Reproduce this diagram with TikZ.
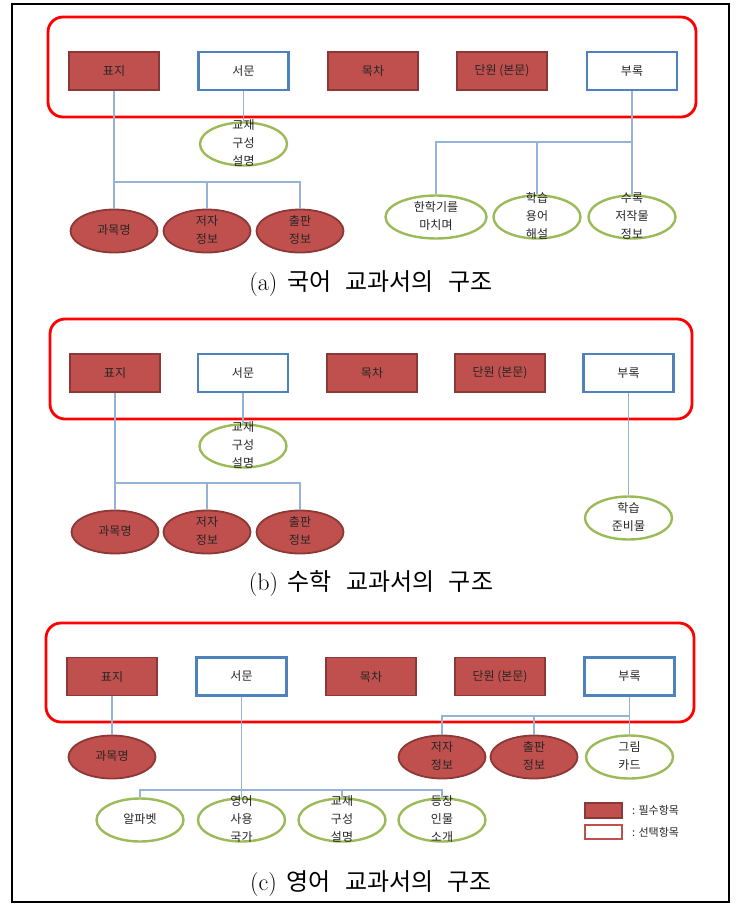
\documentclass[tikz,border=0pt]{standalone}
\usepackage{fontspec}
\newfontfamily\kr{Noto Sans CJK KR}
\usetikzlibrary{shapes.geometric}

\definecolor{reqred}{HTML}{C0504D}
\definecolor{reqedge}{HTML}{8C3836}
\definecolor{optblue}{HTML}{4F81BD}
\definecolor{optgreen}{HTML}{9BBB59}
\definecolor{linkblue}{HTML}{95B3D7}
\definecolor{labelgrey}{HTML}{262626}

% text of an oval, allowed to run over its border
\newcommand{\ovaltext}[1]{\raisebox{-0.25em}[0pt][0pt]{\begin{tabular}{@{}c@{}}#1\end{tabular}}}

\tikzset{
    part/.style={rectangle, minimum width=90pt, minimum height=38pt, inner sep=0pt, text=labelgrey, font=\kr\fontsize{12}{14}\selectfont},
    reqpart/.style={part, fill=reqred, draw=reqedge, line width=1.8pt},
    optpart/.style={part, fill=white, draw=optblue, line width=2.4pt},
    item/.style={ellipse, minimum width=87pt, minimum height=43pt, inner sep=0pt, text=labelgrey, font=\kr\fontsize{12}{18}\selectfont},
    reqitem/.style={item, fill=reqred, draw=reqedge, line width=1.8pt},
    optitem/.style={item, fill=white, draw=optgreen, line width=2.4pt},
    group/.style={draw=red, line width=2.8pt, rounded corners=15pt},
    link/.style={draw=linkblue, line width=1.4pt},
    caption/.style={font=\fontsize{24}{26}\selectfont},
    keytext/.style={anchor=west, inner sep=0pt, text=labelgrey, font=\kr\fontsize{11}{13}\selectfont}
}

\begin{document}
\begin{tikzpicture}[x=1pt, y=-1pt]

    \useasboundingbox (0,0) rectangle (737,904);
    \draw [line width=2.8pt] (12,4) rectangle (729,902);

    % ---------- (a) ----------
    \draw [group] (48,17) rectangle (696,117);

    \node [reqpart] (a-pyoji)  at (114,71) {표지};
    \node [optpart] (a-seomun) at (243.5,71) {서문};
    \node [reqpart] (a-mokcha) at (373,71) {목차};
    \node [reqpart] (a-danwon) at (502,71) {단원 (본문)};
    \node [optpart] (a-burok)  at (632,71) {부록};

    \node [optitem] (a-gyojae) at (243.5,144) {\ovaltext{교재\\구성\\설명}};

    \node [reqitem] (a-gwamok) at (114,231) {\ovaltext{과목명}};
    \node [reqitem] (a-jeoja)  at (207,231) {\ovaltext{저자\\정보}};
    \node [reqitem] (a-chulpan) at (300,231) {\ovaltext{출판\\정보}};

    \node [optitem, minimum width=101pt] (a-hanhakgi) at (436,217) {\ovaltext{한학기를\\마치며}};
    \node [optitem] (a-yongeo) at (537,217) {\ovaltext{학습\\용어\\해설}};
    \node [optitem] (a-surok)  at (632,217) {\ovaltext{수록\\저작물\\정보}};

    \coordinate (a-bar1) at (0,182);
    \coordinate (a-bar2) at (0,142);

    \draw [link] (a-seomun.south) -- (a-gyojae.north);
    \draw [link] (a-pyoji.south) -- (a-gwamok.north);
    \draw [link] (a-gwamok.north |- a-bar1) -- (a-chulpan.north |- a-bar1) -- (a-chulpan.north);
    \draw [link] (a-jeoja.north |- a-bar1) -- (a-jeoja.north);
    \draw [link] (a-burok.south) -- (a-surok.north);
    \draw [link] (a-surok.north |- a-bar2) -- (a-hanhakgi.north |- a-bar2) -- (a-hanhakgi.north);
    \draw [link] (a-yongeo.north |- a-bar2) -- (a-yongeo.north);

    \node [caption] (a-cap) at (371,284) {(a)\hspace{0.4em}{\kr 국어\hspace{0.6em}교과서의\hspace{0.6em}구조}};

    % ---------- (b) ----------
    \draw [group] (50,319) rectangle (692,419);

    \node [reqpart] (b-pyoji)  at (115,373) {표지};
    \node [optpart] (b-seomun) at (243,373) {서문};
    \node [reqpart] (b-mokcha) at (372,373) {목차};
    \node [reqpart] (b-danwon) at (500,373) {단원 (본문)};
    \node [optpart] (b-burok)  at (628.5,373) {부록};

    \node [optitem] (b-gyojae) at (243,446) {\ovaltext{교재\\구성\\설명}};

    \node [reqitem] (b-gwamok) at (115,532) {\ovaltext{과목명}};
    \node [reqitem] (b-jeoja)  at (207,532) {\ovaltext{저자\\정보}};
    \node [reqitem] (b-chulpan) at (300,532) {\ovaltext{출판\\정보}};

    \node [optitem] (b-junbi) at (628.5,518) {\ovaltext{학습\\준비물}};

    \coordinate (b-bar1) at (0,483);

    \draw [link] (b-seomun.south) -- (b-gyojae.north);
    \draw [link] (b-pyoji.south) -- (b-gwamok.north);
    \draw [link] (b-gwamok.north |- b-bar1) -- (b-chulpan.north |- b-bar1) -- (b-chulpan.north);
    \draw [link] (b-jeoja.north |- b-bar1) -- (b-jeoja.north);
    \draw [link] (b-burok.south) -- (b-junbi.north);

    \node [caption] (b-cap) at (371,584) {(b)\hspace{0.4em}{\kr 수학\hspace{0.6em}교과서의\hspace{0.6em}구조}};

    % ---------- (c) ----------
    \draw [group] (46,623) rectangle (694,722);

    \node [reqpart] (c-pyoji)  at (112,676.5) {표지};
    \node [optpart] (c-seomun) at (241.5,676.5) {서문};
    \node [reqpart] (c-mokcha) at (371,676.5) {목차};
    \node [reqpart] (c-danwon) at (500,676.5) {단원 (본문)};
    \node [optpart] (c-burok)  at (629.5,676.5) {부록};

    \node [reqitem] (c-gwamok) at (112,757) {\ovaltext{과목명}};

    \node [reqitem] (c-jeoja)   at (442,757) {\ovaltext{저자\\정보}};
    \node [reqitem] (c-chulpan) at (534,757) {\ovaltext{출판\\정보}};
    \node [optitem] (c-geurim)  at (629.5,757) {\ovaltext{그림\\카드}};

    \node [optitem] (c-alphabet)  at (140,820) {\ovaltext{알파벳}};
    \node [optitem] (c-country)   at (241.5,820) {\ovaltext{영어\\사용\\국가}};
    \node [optitem] (c-gyojae)    at (342,820) {\ovaltext{교재\\구성\\설명}};
    \node [optitem] (c-character) at (442,820) {\ovaltext{등장\\인물\\소개}};

    \coordinate (c-bar1) at (0,716);
    \coordinate (c-bar2) at (0,790);

    \draw [link] (c-pyoji.south) -- (c-gwamok.north);
    \draw [link] (c-burok.south) -- (c-geurim.north);
    \draw [link] (c-geurim.north |- c-bar1) -- (c-jeoja.north |- c-bar1) -- (c-jeoja.north);
    \draw [link] (c-chulpan.north |- c-bar1) -- (c-chulpan.north);
    \draw [link] (c-seomun.south) -- (c-country.north);
    \draw [link] (c-alphabet.north) -- (c-alphabet.north |- c-bar2) -- (c-character.north |- c-bar2) -- (c-character.north);
    \draw [link] (c-gyojae.north |- c-bar2) -- (c-gyojae.north);

    % legend
    \node [reqpart, minimum width=37pt, minimum height=15pt] (key-req) at (603.5,810.5) {};
    \node [part, fill=white, draw=reqred, line width=2pt, minimum width=37pt, minimum height=14pt] (key-opt) at (603.5,832) {};
    \node [keytext] (key-req-text) at (632,810.5) {: 필수항목};
    \node [keytext] (key-opt-text) at (632,832) {: 선택항목};

    \node [caption] (c-cap) at (371,884) {(c)\hspace{0.4em}{\kr 영어\hspace{0.6em}교과서의\hspace{0.6em}구조}};

\end{tikzpicture}
\end{document}
